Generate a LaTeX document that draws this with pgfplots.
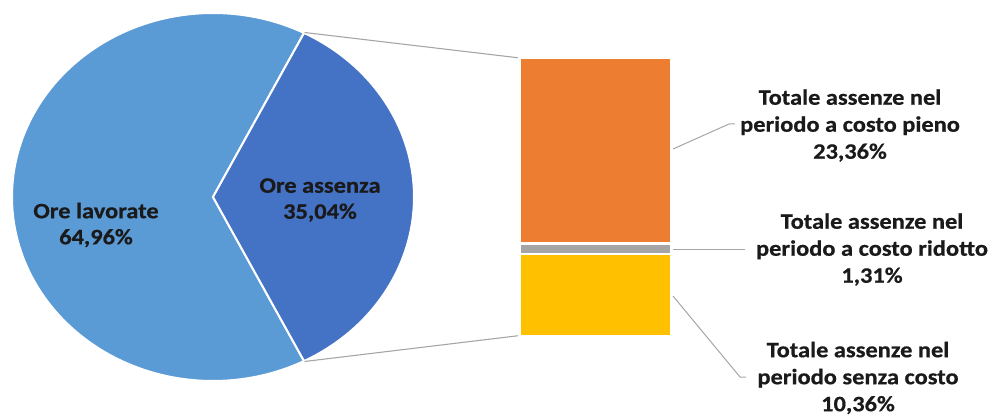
\documentclass[border=0pt]{standalone}
\usepackage{pgfplots}
\pgfplotsset{compat=1.18}
\usepackage{fontspec}
\newfontfamily\lab{Carlito}[FakeStretch=1.11, FakeBold=0.6]
\definecolor{cLav}{HTML}{5B9BD5}
\definecolor{cAss}{HTML}{4472C4}
\definecolor{cPieno}{HTML}{ED7D31}
\definecolor{cRid}{HTML}{A5A5A5}
\definecolor{cSenza}{HTML}{FFC000}
\definecolor{cLine}{HTML}{A6A6A6}
\definecolor{cTxt}{HTML}{1A1A1A}
% pie values (%)
\newcommand\pLav{64.96}
\newcommand\pAss{35.04}
% bar values (%)
\newcommand\bPieno{23.36}
\newcommand\bRid{1.31}
\newcommand\bSenza{10.36}
\begin{document}
\begin{tikzpicture}
\useasboundingbox (0,0) rectangle (992pt,418pt);
\begin{axis}[
  at={(0pt,0pt)}, anchor=south west,
  width=992pt, height=418pt, scale only axis,
  xmin=0, xmax=992, ymin=0, ymax=418,
  hide axis, clip=false,
]
% pie (ellipse centre 213,221; radii 201,184)
\addplot[fill=cLav, draw=white, line width=2pt, domain={\pAss*1.8}:{\pAss*1.8+\pLav*3.6}, samples=160, smooth]
  ({213+201*cos(x)},{221+184*sin(x)}) -- (213,221) -- cycle;
\addplot[fill=cAss, draw=white, line width=2pt, domain={-\pAss*1.8}:{\pAss*1.8}, samples=100, smooth]
  ({213+201*cos(x)},{221+184*sin(x)}) -- (213,221) -- cycle;
% connector lines
\addplot[cLine, line width=1.1pt] coordinates {(304.5,385.5) (520,360)};
\addplot[cLine, line width=1.1pt] coordinates {(304.5,56.5) (520,82.5)};
% leader lines
\addplot[cLine, line width=1pt] coordinates {(673,269) (729,294) (735,294)};
\addplot[cLine, line width=1pt] coordinates {(673,169) (745,169)};
\addplot[cLine, line width=1pt] coordinates {(673,122) (740,41) (746,41)};
% labels
\node[font=\lab\bfseries\fontsize{22}{26}\selectfont, text=cTxt, align=center, inner sep=0pt] at (96,193)
  {Ore lavorate\\64,96\%};
\node[font=\lab\bfseries\fontsize{22}{26}\selectfont, text=cTxt, align=center, inner sep=0pt] at (320,218)
  {Ore assenza\\35,04\%};
\node[font=\lab\bfseries\fontsize{22}{27}\selectfont, text=cTxt, align=center, inner sep=0pt] at (850,292.5)
  {Totale assenze nel\\periodo a costo pieno\\23,36\%};
\node[font=\lab\bfseries\fontsize{22}{27}\selectfont, text=cTxt, align=center, inner sep=0pt] at (872,168.5)
  {Totale assenze nel\\periodo a costo ridotto\\1,31\%};
\node[font=\lab\bfseries\fontsize{22}{27}\selectfont, text=cTxt, align=center, inner sep=0pt] at (858,40)
  {Totale assenze nel\\periodo senza costo\\10,36\%};
\end{axis}
\begin{axis}[
  at={(519.5pt,81.5pt)}, anchor=south west,
  width=151.7pt, height=278.7pt, scale only axis,
  xmin=-0.5, xmax=0.5, ymin=0, ymax=35.03,
  enlargelimits=false, hide axis, clip=false,
  ybar stacked, bar width=1,
]
\addplot[fill=cSenza, draw=white, line width=2.5pt] coordinates {(0,\bSenza)};
\addplot[fill=cRid, draw=white, line width=2.5pt] coordinates {(0,\bRid)};
\addplot[fill=cPieno, draw=white, line width=2.5pt] coordinates {(0,\bPieno)};
\end{axis}
\end{tikzpicture}
\end{document}
